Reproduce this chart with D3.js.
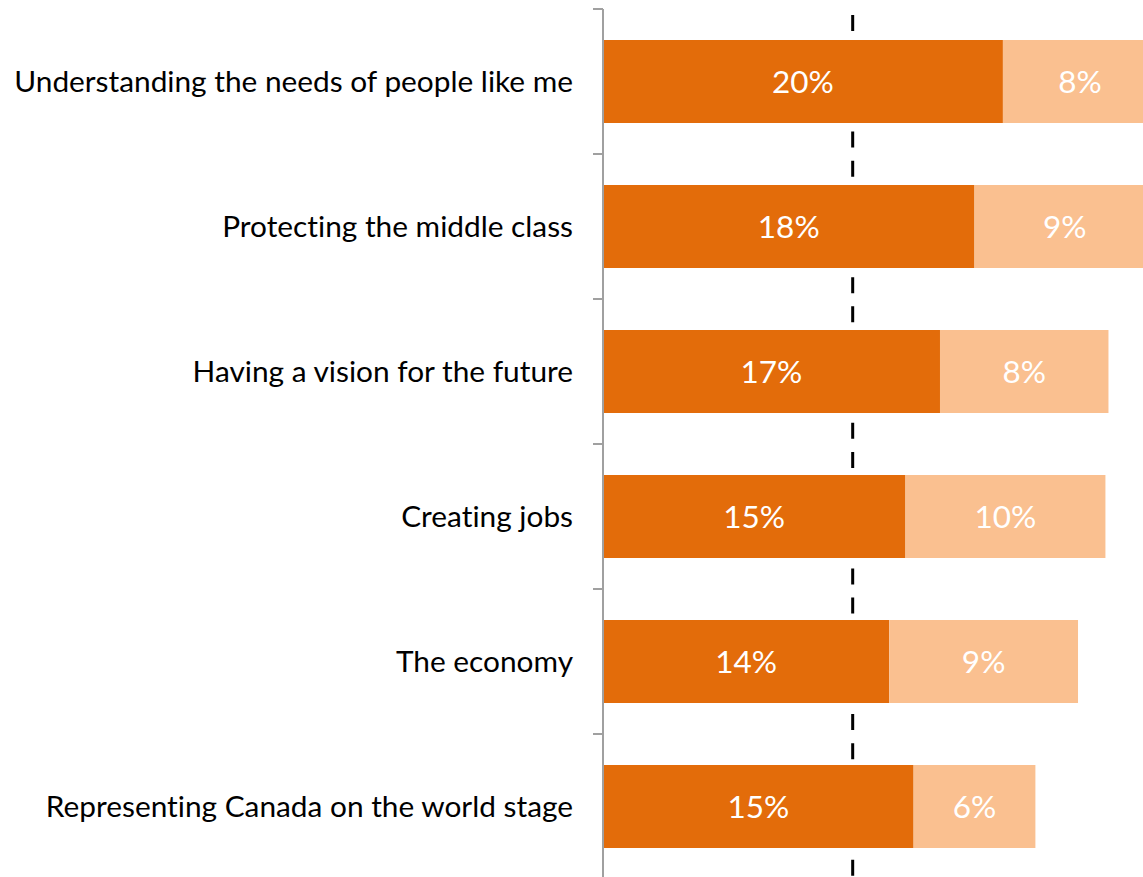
<!DOCTYPE html>
<html>
<head>
<meta charset="utf-8">
<script src="https://cdn.jsdelivr.net/npm/d3@7"></script>
<style>
  html, body { margin: 0; padding: 0; background: #fff; }
  svg { display: block; }
  text { font-variant-ligatures: none; font-feature-settings: "liga" 0, "dlig" 0; }
</style>
</head>
<body>
<svg id="chart" width="1143" height="877"></svg>
<script>
// ---- data ----
const categories = [
  "Understanding the needs of people like me",
  "Protecting the middle class",
  "Having a vision for the future",
  "Creating jobs",
  "The economy",
  "Representing Canada on the world stage"
];
const firstValues  = [19.7, 18.3, 16.6, 14.9, 14.1, 15.3];
const secondValues = [7.6, 8.9, 8.3, 9.85, 9.3, 6.0];
const referenceValue = 12.3;
const xDomain = [0, 26.6];

// ---- layout ----
const W = 1143, H = 877;
const axisX = 603;
const pxPerUnit = 20.3;
const svg = d3.select("#chart");
const font = "Lato, 'Open Sans', sans-serif";
const darkColor = "#E36C0A";
const lightColor = "#FAC090";

const x = d3.scaleLinear().domain(xDomain).range([axisX, axisX + xDomain[1] * pxPerUnit]);
const y = d3.scaleBand().domain(categories).range([9, 879]).paddingInner(0.4276).paddingOuter(0.2138);

// dashed reference line (behind bars)
svg.append("line")
  .attr("x1", x(referenceValue)).attr("x2", x(referenceValue))
  .attr("y1", 15).attr("y2", H)
  .attr("stroke", "#000").attr("stroke-width", 3)
  .attr("stroke-dasharray", "16 13.125");

const rows = categories.map((c, i) => ({ c, a: firstValues[i], b: secondValues[i] }));

const g = svg.append("g");
// dark segments
g.selectAll("rect.a").data(rows).join("rect")
  .attr("class", "a")
  .attr("x", d => x(0)).attr("y", d => y(d.c))
  .attr("width", d => x(d.a) - x(0)).attr("height", y.bandwidth())
  .attr("fill", darkColor);
// light segments
g.selectAll("rect.b").data(rows).join("rect")
  .attr("class", "b")
  .attr("x", d => x(d.a)).attr("y", d => y(d.c))
  .attr("width", d => x(d.a + d.b) - x(d.a)).attr("height", y.bandwidth())
  .attr("fill", lightColor);

// value labels
const valSize = 31.5;
g.selectAll("text.va").data(rows).join("text")
  .attr("class", "va")
  .attr("x", d => (x(0) + x(d.a)) / 2)
  .attr("y", d => y(d.c) + y.bandwidth() / 2)
  .attr("dy", "0.36em")
  .attr("text-anchor", "middle")
  .attr("fill", "#fff")
  .style("font-family", font).style("font-size", valSize + "px")
  .text(d => Math.round(d.a) + "%");
g.selectAll("text.vb").data(rows).join("text")
  .attr("class", "vb")
  .attr("x", d => (x(d.a) + x(d.a + d.b)) / 2)
  .attr("y", d => y(d.c) + y.bandwidth() / 2)
  .attr("dy", "0.36em")
  .attr("text-anchor", "middle")
  .attr("fill", "#fff")
  .style("font-family", font).style("font-size", valSize + "px")
  .text(d => Math.round(d.b) + "%");

// y axis
const yAxisG = svg.append("g").attr("transform", `translate(${axisX},0)`);
yAxisG.append("line")
  .attr("x1", 0).attr("x2", 0).attr("y1", 9).attr("y2", H)
  .attr("stroke", "#A0A0A0").attr("stroke-width", 2);
const tickYs = categories.map(c => y(c) - y.step() * y.paddingInner() / 2).concat([y(categories[categories.length-1]) + y.step() * (1 - y.paddingInner()/2)]);
yAxisG.selectAll("line.tick").data(tickYs).join("line")
  .attr("class", "tick")
  .attr("x1", -10).attr("x2", 0)
  .attr("y1", d => d).attr("y2", d => d)
  .attr("stroke", "#A0A0A0").attr("stroke-width", 2);

// category labels
let catSize = 26;
const cats = yAxisG.selectAll("text.cat").data(categories).join("text")
  .attr("class", "cat")
  .attr("x", -30)
  .attr("y", d => y(d) + y.bandwidth() / 2)
  .attr("dy", "0.35em")
  .attr("text-anchor", "end")
  .attr("fill", "#000")
  .style("font-family", font).style("font-size", catSize + "px")
  .text(d => d);
// fit longest label to the space left of the axis
const maxLen = d3.max(cats.nodes(), n => n.getComputedTextLength());
if (maxLen > 0) {
  catSize = catSize * 559 / maxLen;
  cats.style("font-size", catSize + "px");
}
</script>
</body>
</html>
